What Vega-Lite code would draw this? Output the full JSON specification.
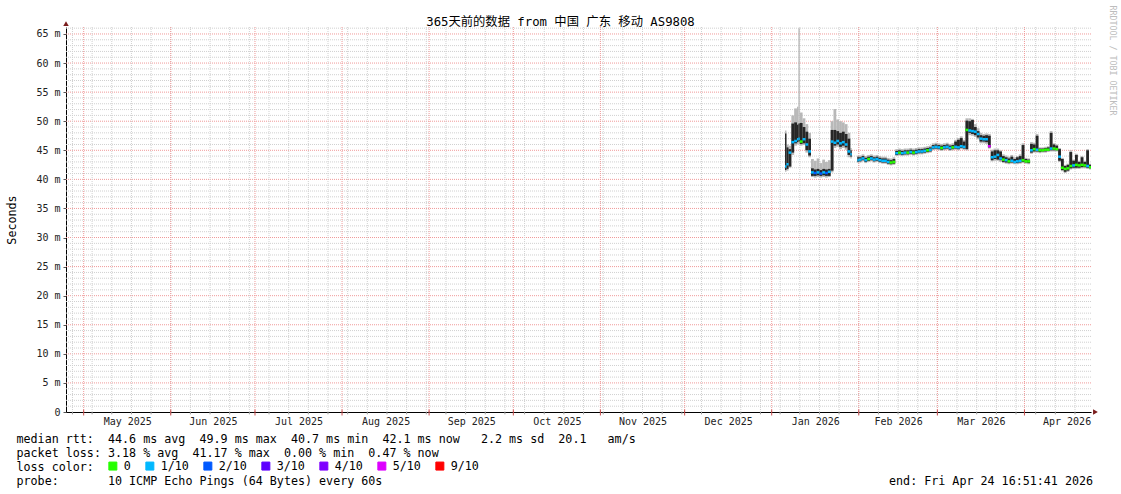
{
  "$schema": "https://vega.github.io/schema/vega-lite/v6.json",
  "width": 1025,
  "height": 385,
  "autosize": {"type": "none"},
  "padding": {"left": 66, "top": 27, "right": 30, "bottom": 82},
  "background": "white",
  "config": {"view": {"stroke": null}, "font": "DejaVu Sans Mono"},
  "datasets": {
    "hminor": [{"v":1},{"v":2},{"v":3},{"v":4},{"v":6},{"v":7},{"v":8},{"v":9},{"v":11},{"v":12},{"v":13},{"v":14},{"v":16},{"v":17},{"v":18},{"v":19},{"v":21},{"v":22},{"v":23},{"v":24},{"v":26},{"v":27},{"v":28},{"v":29},{"v":31},{"v":32},{"v":33},{"v":34},{"v":36},{"v":37},{"v":38},{"v":39},{"v":41},{"v":42},{"v":43},{"v":44},{"v":46},{"v":47},{"v":48},{"v":49},{"v":51},{"v":52},{"v":53},{"v":54},{"v":56},{"v":57},{"v":58},{"v":59},{"v":61},{"v":62},{"v":63},{"v":64},{"v":66}],
    "hmajor": [{"v":5},{"v":10},{"v":15},{"v":20},{"v":25},{"v":30},{"v":35},{"v":40},{"v":45},{"v":50},{"v":55},{"v":60},{"v":65}],
    "weeks": [{"t":"2025-04-27T00:00"},{"t":"2025-05-04T00:00"},{"t":"2025-05-11T00:00"},{"t":"2025-05-18T00:00"},{"t":"2025-05-25T00:00"},{"t":"2025-06-01T00:00"},{"t":"2025-06-08T00:00"},{"t":"2025-06-15T00:00"},{"t":"2025-06-22T00:00"},{"t":"2025-06-29T00:00"},{"t":"2025-07-06T00:00"},{"t":"2025-07-13T00:00"},{"t":"2025-07-20T00:00"},{"t":"2025-07-27T00:00"},{"t":"2025-08-03T00:00"},{"t":"2025-08-10T00:00"},{"t":"2025-08-17T00:00"},{"t":"2025-08-24T00:00"},{"t":"2025-08-31T00:00"},{"t":"2025-09-07T00:00"},{"t":"2025-09-14T00:00"},{"t":"2025-09-21T00:00"},{"t":"2025-09-28T00:00"},{"t":"2025-10-05T00:00"},{"t":"2025-10-12T00:00"},{"t":"2025-10-19T00:00"},{"t":"2025-10-26T00:00"},{"t":"2025-11-02T00:00"},{"t":"2025-11-09T00:00"},{"t":"2025-11-16T00:00"},{"t":"2025-11-23T00:00"},{"t":"2025-11-30T00:00"},{"t":"2025-12-07T00:00"},{"t":"2025-12-14T00:00"},{"t":"2025-12-21T00:00"},{"t":"2025-12-28T00:00"},{"t":"2026-01-04T00:00"},{"t":"2026-01-11T00:00"},{"t":"2026-01-18T00:00"},{"t":"2026-01-25T00:00"},{"t":"2026-02-01T00:00"},{"t":"2026-02-08T00:00"},{"t":"2026-02-15T00:00"},{"t":"2026-02-22T00:00"},{"t":"2026-03-01T00:00"},{"t":"2026-03-08T00:00"},{"t":"2026-03-15T00:00"},{"t":"2026-03-22T00:00"},{"t":"2026-03-29T00:00"},{"t":"2026-04-05T00:00"},{"t":"2026-04-12T00:00"},{"t":"2026-04-19T00:00"}],
    "months": [{"t":"2025-05-01T00:00"},{"t":"2025-06-01T00:00"},{"t":"2025-07-01T00:00"},{"t":"2025-08-01T00:00"},{"t":"2025-09-01T00:00"},{"t":"2025-10-01T00:00"},{"t":"2025-11-01T00:00"},{"t":"2025-12-01T00:00"},{"t":"2026-01-01T00:00"},{"t":"2026-02-01T00:00"},{"t":"2026-03-01T00:00"},{"t":"2026-04-01T00:00"}],
    "ping": [
      {"t":"2026-01-05T18:00","t2":"2026-01-06T06:00","lo":41.3,"hi":48.4,"dlo":41.6,"dhi":47.9,"med":42.2,"loss":"1/10"},
      {"t":"2026-01-06T06:00","t2":"2026-01-07T00:00","lo":41.5,"hi":46.0,"dlo":41.8,"dhi":45.5,"med":42.6,"loss":"1/10"},
      {"t":"2026-01-07T00:00","t2":"2026-01-08T00:00","lo":42.0,"hi":45.8,"dlo":42.2,"dhi":45.2,"med":44.6,"loss":"1/10"},
      {"t":"2026-01-08T00:00","t2":"2026-01-09T00:00","lo":44.2,"hi":51.0,"dlo":44.6,"dhi":49.6,"med":46.4,"loss":"1/10"},
      {"t":"2026-01-09T00:00","t2":"2026-01-10T00:00","lo":45.8,"hi":52.2,"dlo":46.2,"dhi":49.8,"med":46.6,"loss":"1/10"},
      {"t":"2026-01-10T00:00","t2":"2026-01-10T12:00","lo":46.0,"hi":52.5,"dlo":46.4,"dhi":49.4,"med":46.9,"loss":"1/10"},
      {"t":"2026-01-10T12:00","t2":"2026-01-11T00:00","lo":46.0,"hi":66.0,"dlo":46.5,"dhi":49.6,"med":47.0,"loss":"1/10"},
      {"t":"2026-01-11T00:00","t2":"2026-01-12T00:00","lo":45.8,"hi":51.5,"dlo":46.1,"dhi":49.7,"med":46.5,"loss":"0"},
      {"t":"2026-01-12T00:00","t2":"2026-01-13T00:00","lo":45.9,"hi":50.5,"dlo":46.2,"dhi":49.0,"med":46.9,"loss":"1/10"},
      {"t":"2026-01-13T00:00","t2":"2026-01-14T00:00","lo":44.6,"hi":49.5,"dlo":45.0,"dhi":48.2,"med":46.0,"loss":"1/10"},
      {"t":"2026-01-14T00:00","t2":"2026-01-15T00:00","lo":43.8,"hi":48.0,"dlo":44.1,"dhi":47.0,"med":44.8,"loss":"1/10"},
      {"t":"2026-01-15T00:00","t2":"2026-01-16T00:00","lo":40.4,"hi":43.5,"dlo":40.6,"dhi":41.9,"med":41.2,"loss":"1/10"},
      {"t":"2026-01-16T00:00","t2":"2026-01-17T00:00","lo":40.3,"hi":43.2,"dlo":40.6,"dhi":41.7,"med":41.1,"loss":"2/10"},
      {"t":"2026-01-17T00:00","t2":"2026-01-18T00:00","lo":40.4,"hi":43.6,"dlo":40.7,"dhi":41.8,"med":41.2,"loss":"1/10"},
      {"t":"2026-01-18T00:00","t2":"2026-01-19T00:00","lo":40.3,"hi":42.8,"dlo":40.6,"dhi":41.6,"med":41.0,"loss":"2/10"},
      {"t":"2026-01-19T00:00","t2":"2026-01-20T00:00","lo":40.4,"hi":43.4,"dlo":40.7,"dhi":41.8,"med":41.2,"loss":"1/10"},
      {"t":"2026-01-20T00:00","t2":"2026-01-21T00:00","lo":40.3,"hi":43.0,"dlo":40.6,"dhi":41.7,"med":41.1,"loss":"2/10"},
      {"t":"2026-01-21T00:00","t2":"2026-01-22T00:00","lo":40.4,"hi":43.3,"dlo":40.6,"dhi":41.8,"med":41.3,"loss":"1/10"},
      {"t":"2026-01-22T00:00","t2":"2026-01-23T00:00","lo":41.2,"hi":50.0,"dlo":41.5,"dhi":48.5,"med":46.5,"loss":"1/10"},
      {"t":"2026-01-23T00:00","t2":"2026-01-24T00:00","lo":45.4,"hi":52.1,"dlo":45.8,"dhi":48.5,"med":46.3,"loss":"1/10"},
      {"t":"2026-01-24T00:00","t2":"2026-01-25T00:00","lo":45.6,"hi":50.3,"dlo":46.0,"dhi":48.3,"med":46.6,"loss":"1/10"},
      {"t":"2026-01-25T00:00","t2":"2026-01-26T00:00","lo":45.2,"hi":50.0,"dlo":45.6,"dhi":48.0,"med":46.2,"loss":"1/10"},
      {"t":"2026-01-26T00:00","t2":"2026-01-27T00:00","lo":45.4,"hi":49.8,"dlo":45.8,"dhi":48.2,"med":46.4,"loss":"1/10"},
      {"t":"2026-01-27T00:00","t2":"2026-01-28T00:00","lo":45.1,"hi":49.5,"dlo":45.5,"dhi":47.8,"med":46.0,"loss":"1/10"},
      {"t":"2026-01-28T00:00","t2":"2026-01-29T00:00","lo":43.8,"hi":48.0,"dlo":44.2,"dhi":47.0,"med":44.8,"loss":"1/10"},
      {"t":"2026-01-29T00:00","t2":"2026-01-29T12:00","lo":43.6,"hi":45.4,"dlo":43.9,"dhi":45.0,"med":44.3,"loss":"1/10"},
      {"t":"2026-01-31T12:00","t2":"2026-02-01T00:00","lo":42.8,"hi":44.1,"dlo":43.0,"dhi":43.9,"med":43.3,"loss":"1/10"},
      {"t":"2026-02-01T00:00","t2":"2026-02-02T00:00","lo":42.9,"hi":44.1,"dlo":43.1,"dhi":43.8,"med":43.4,"loss":"1/10"},
      {"t":"2026-02-02T00:00","t2":"2026-02-03T00:00","lo":43.1,"hi":44.3,"dlo":43.3,"dhi":44.0,"med":43.6,"loss":"1/10"},
      {"t":"2026-02-03T00:00","t2":"2026-02-04T00:00","lo":42.8,"hi":44.0,"dlo":43.0,"dhi":43.7,"med":43.3,"loss":"1/10"},
      {"t":"2026-02-04T00:00","t2":"2026-02-05T00:00","lo":43.0,"hi":44.2,"dlo":43.2,"dhi":43.9,"med":43.5,"loss":"0"},
      {"t":"2026-02-05T00:00","t2":"2026-02-06T00:00","lo":43.1,"hi":44.3,"dlo":43.3,"dhi":44.0,"med":43.6,"loss":"1/10"},
      {"t":"2026-02-06T00:00","t2":"2026-02-07T00:00","lo":42.9,"hi":44.1,"dlo":43.1,"dhi":43.8,"med":43.4,"loss":"1/10"},
      {"t":"2026-02-07T00:00","t2":"2026-02-08T00:00","lo":43.0,"hi":44.2,"dlo":43.2,"dhi":43.9,"med":43.5,"loss":"1/10"},
      {"t":"2026-02-08T00:00","t2":"2026-02-09T00:00","lo":42.8,"hi":44.0,"dlo":43.0,"dhi":43.7,"med":43.3,"loss":"1/10"},
      {"t":"2026-02-09T00:00","t2":"2026-02-10T00:00","lo":42.7,"hi":43.9,"dlo":42.9,"dhi":43.6,"med":43.2,"loss":"1/10"},
      {"t":"2026-02-10T00:00","t2":"2026-02-11T00:00","lo":42.7,"hi":43.9,"dlo":42.9,"dhi":43.6,"med":43.2,"loss":"1/10"},
      {"t":"2026-02-11T00:00","t2":"2026-02-12T00:00","lo":42.5,"hi":43.7,"dlo":42.7,"dhi":43.4,"med":43.0,"loss":"1/10"},
      {"t":"2026-02-12T00:00","t2":"2026-02-13T00:00","lo":42.4,"hi":43.6,"dlo":42.6,"dhi":43.3,"med":42.9,"loss":"0"},
      {"t":"2026-02-13T00:00","t2":"2026-02-14T00:00","lo":42.5,"hi":43.8,"dlo":42.7,"dhi":43.5,"med":43.0,"loss":"0"},
      {"t":"2026-02-14T00:00","t2":"2026-02-15T00:00","lo":44.0,"hi":45.2,"dlo":44.2,"dhi":44.9,"med":44.5,"loss":"1/10"},
      {"t":"2026-02-15T00:00","t2":"2026-02-16T00:00","lo":44.1,"hi":45.3,"dlo":44.3,"dhi":45.0,"med":44.6,"loss":"0"},
      {"t":"2026-02-16T00:00","t2":"2026-02-17T00:00","lo":44.0,"hi":45.2,"dlo":44.2,"dhi":44.9,"med":44.5,"loss":"1/10"},
      {"t":"2026-02-17T00:00","t2":"2026-02-18T00:00","lo":44.1,"hi":45.3,"dlo":44.3,"dhi":45.0,"med":44.6,"loss":"1/10"},
      {"t":"2026-02-18T00:00","t2":"2026-02-19T00:00","lo":44.1,"hi":45.3,"dlo":44.3,"dhi":45.0,"med":44.6,"loss":"0"},
      {"t":"2026-02-19T00:00","t2":"2026-02-20T00:00","lo":44.2,"hi":45.4,"dlo":44.4,"dhi":45.1,"med":44.7,"loss":"1/10"},
      {"t":"2026-02-20T00:00","t2":"2026-02-21T00:00","lo":44.1,"hi":45.3,"dlo":44.3,"dhi":45.0,"med":44.6,"loss":"0"},
      {"t":"2026-02-21T00:00","t2":"2026-02-22T00:00","lo":44.2,"hi":45.4,"dlo":44.4,"dhi":45.1,"med":44.7,"loss":"1/10"},
      {"t":"2026-02-22T00:00","t2":"2026-02-23T00:00","lo":44.3,"hi":45.5,"dlo":44.5,"dhi":45.2,"med":44.8,"loss":"1/10"},
      {"t":"2026-02-23T00:00","t2":"2026-02-24T00:00","lo":44.3,"hi":45.5,"dlo":44.5,"dhi":45.2,"med":44.8,"loss":"1/10"},
      {"t":"2026-02-24T00:00","t2":"2026-02-25T00:00","lo":44.4,"hi":45.6,"dlo":44.6,"dhi":45.3,"med":44.9,"loss":"1/10"},
      {"t":"2026-02-25T00:00","t2":"2026-02-26T00:00","lo":44.5,"hi":45.7,"dlo":44.7,"dhi":45.4,"med":45.0,"loss":"0"},
      {"t":"2026-02-26T00:00","t2":"2026-02-27T00:00","lo":44.6,"hi":45.8,"dlo":44.8,"dhi":45.5,"med":45.1,"loss":"1/10"},
      {"t":"2026-02-27T00:00","t2":"2026-02-28T00:00","lo":45.0,"hi":46.2,"dlo":45.2,"dhi":45.9,"med":45.5,"loss":"1/10"},
      {"t":"2026-02-28T00:00","t2":"2026-03-01T00:00","lo":45.1,"hi":46.3,"dlo":45.3,"dhi":46.0,"med":45.6,"loss":"1/10"},
      {"t":"2026-03-01T00:00","t2":"2026-03-02T00:00","lo":45.0,"hi":46.2,"dlo":45.2,"dhi":45.9,"med":45.5,"loss":"1/10"},
      {"t":"2026-03-02T00:00","t2":"2026-03-03T00:00","lo":44.9,"hi":46.1,"dlo":45.1,"dhi":45.8,"med":45.4,"loss":"0"},
      {"t":"2026-03-03T00:00","t2":"2026-03-04T00:00","lo":45.0,"hi":46.2,"dlo":45.2,"dhi":45.9,"med":45.5,"loss":"1/10"},
      {"t":"2026-03-04T00:00","t2":"2026-03-05T00:00","lo":45.1,"hi":46.3,"dlo":45.3,"dhi":46.0,"med":45.6,"loss":"1/10"},
      {"t":"2026-03-05T00:00","t2":"2026-03-06T00:00","lo":44.9,"hi":46.1,"dlo":45.1,"dhi":45.8,"med":45.4,"loss":"1/10"},
      {"t":"2026-03-06T00:00","t2":"2026-03-07T00:00","lo":45.0,"hi":46.2,"dlo":45.2,"dhi":45.9,"med":45.5,"loss":"0"},
      {"t":"2026-03-07T00:00","t2":"2026-03-08T00:00","lo":45.1,"hi":46.8,"dlo":45.3,"dhi":46.5,"med":45.6,"loss":"1/10"},
      {"t":"2026-03-08T00:00","t2":"2026-03-09T00:00","lo":45.0,"hi":47.1,"dlo":45.2,"dhi":46.8,"med":45.5,"loss":"1/10"},
      {"t":"2026-03-09T00:00","t2":"2026-03-10T00:00","lo":45.2,"hi":47.4,"dlo":45.4,"dhi":47.1,"med":45.7,"loss":"1/10"},
      {"t":"2026-03-10T00:00","t2":"2026-03-11T00:00","lo":45.1,"hi":46.8,"dlo":45.3,"dhi":46.5,"med":45.6,"loss":"1/10"},
      {"t":"2026-03-11T00:00","t2":"2026-03-12T00:00","lo":45.0,"hi":50.5,"dlo":45.2,"dhi":50.1,"med":48.5,"loss":"0"},
      {"t":"2026-03-12T00:00","t2":"2026-03-13T00:00","lo":47.6,"hi":50.5,"dlo":48.0,"dhi":50.0,"med":48.4,"loss":"1/10"},
      {"t":"2026-03-13T00:00","t2":"2026-03-14T00:00","lo":47.5,"hi":50.4,"dlo":47.8,"dhi":50.2,"med":48.3,"loss":"1/10"},
      {"t":"2026-03-14T00:00","t2":"2026-03-15T00:00","lo":47.3,"hi":49.5,"dlo":47.6,"dhi":49.0,"med":48.2,"loss":"1/10"},
      {"t":"2026-03-15T00:00","t2":"2026-03-16T00:00","lo":46.9,"hi":48.8,"dlo":47.2,"dhi":48.3,"med":47.8,"loss":"1/10"},
      {"t":"2026-03-16T00:00","t2":"2026-03-17T00:00","lo":46.2,"hi":48.0,"dlo":46.5,"dhi":47.6,"med":47.0,"loss":"1/10"},
      {"t":"2026-03-17T00:00","t2":"2026-03-18T00:00","lo":46.2,"hi":47.8,"dlo":46.5,"dhi":47.5,"med":46.9,"loss":"1/10"},
      {"t":"2026-03-18T00:00","t2":"2026-03-19T00:00","lo":46.1,"hi":47.9,"dlo":46.4,"dhi":47.6,"med":46.9,"loss":"1/10"},
      {"t":"2026-03-19T00:00","t2":"2026-03-20T00:00","lo":45.3,"hi":47.8,"dlo":45.5,"dhi":47.5,"med":45.7,"loss":"5/10"},
      {"t":"2026-03-20T00:00","t2":"2026-03-21T00:00","lo":43.1,"hi":45.1,"dlo":43.3,"dhi":44.8,"med":43.8,"loss":"1/10"},
      {"t":"2026-03-21T00:00","t2":"2026-03-22T00:00","lo":43.2,"hi":45.3,"dlo":43.5,"dhi":45.0,"med":43.9,"loss":"1/10"},
      {"t":"2026-03-22T00:00","t2":"2026-03-23T00:00","lo":43.2,"hi":45.3,"dlo":43.4,"dhi":45.0,"med":44.2,"loss":"1/10"},
      {"t":"2026-03-23T00:00","t2":"2026-03-24T00:00","lo":43.0,"hi":45.0,"dlo":43.3,"dhi":44.8,"med":43.6,"loss":"1/10"},
      {"t":"2026-03-24T00:00","t2":"2026-03-25T00:00","lo":42.8,"hi":44.3,"dlo":43.0,"dhi":44.0,"med":43.4,"loss":"0"},
      {"t":"2026-03-25T00:00","t2":"2026-03-26T00:00","lo":42.7,"hi":44.1,"dlo":42.9,"dhi":43.8,"med":43.3,"loss":"1/10"},
      {"t":"2026-03-26T00:00","t2":"2026-03-27T00:00","lo":42.6,"hi":43.9,"dlo":42.8,"dhi":43.6,"med":43.1,"loss":"0"},
      {"t":"2026-03-27T00:00","t2":"2026-03-28T00:00","lo":42.7,"hi":44.2,"dlo":42.9,"dhi":43.9,"med":43.2,"loss":"1/10"},
      {"t":"2026-03-28T00:00","t2":"2026-03-29T00:00","lo":42.6,"hi":43.8,"dlo":42.8,"dhi":43.5,"med":43.0,"loss":"1/10"},
      {"t":"2026-03-29T00:00","t2":"2026-03-30T00:00","lo":42.6,"hi":44.0,"dlo":42.8,"dhi":43.8,"med":43.1,"loss":"1/10"},
      {"t":"2026-03-30T00:00","t2":"2026-03-31T00:00","lo":42.7,"hi":44.3,"dlo":42.9,"dhi":44.0,"med":43.2,"loss":"1/10"},
      {"t":"2026-03-31T00:00","t2":"2026-04-01T00:00","lo":42.8,"hi":46.2,"dlo":43.0,"dhi":45.9,"med":43.3,"loss":"0"},
      {"t":"2026-04-01T00:00","t2":"2026-04-02T00:00","lo":42.7,"hi":43.7,"dlo":42.9,"dhi":43.5,"med":43.1,"loss":"0"},
      {"t":"2026-04-02T00:00","t2":"2026-04-03T00:00","lo":42.6,"hi":43.6,"dlo":42.8,"dhi":43.4,"med":43.1,"loss":"0"},
      {"t":"2026-04-03T00:00","t2":"2026-04-04T00:00","lo":44.4,"hi":46.4,"dlo":44.6,"dhi":46.1,"med":45.0,"loss":"1/10"},
      {"t":"2026-04-04T00:00","t2":"2026-04-05T00:00","lo":44.6,"hi":46.3,"dlo":44.8,"dhi":46.0,"med":45.2,"loss":"0"},
      {"t":"2026-04-05T00:00","t2":"2026-04-06T00:00","lo":44.6,"hi":47.8,"dlo":44.8,"dhi":47.5,"med":45.1,"loss":"1/10"},
      {"t":"2026-04-06T00:00","t2":"2026-04-07T00:00","lo":44.5,"hi":45.5,"dlo":44.7,"dhi":45.3,"med":45.0,"loss":"0"},
      {"t":"2026-04-07T00:00","t2":"2026-04-08T00:00","lo":44.6,"hi":45.5,"dlo":44.8,"dhi":45.3,"med":45.0,"loss":"0"},
      {"t":"2026-04-08T00:00","t2":"2026-04-09T00:00","lo":44.6,"hi":45.6,"dlo":44.8,"dhi":45.4,"med":45.1,"loss":"0"},
      {"t":"2026-04-09T00:00","t2":"2026-04-10T00:00","lo":44.7,"hi":45.7,"dlo":44.9,"dhi":45.5,"med":45.1,"loss":"0"},
      {"t":"2026-04-10T00:00","t2":"2026-04-11T00:00","lo":44.8,"hi":48.3,"dlo":45.0,"dhi":48.0,"med":45.3,"loss":"1/10"},
      {"t":"2026-04-11T00:00","t2":"2026-04-12T00:00","lo":44.8,"hi":46.2,"dlo":45.0,"dhi":46.0,"med":45.3,"loss":"0"},
      {"t":"2026-04-12T00:00","t2":"2026-04-13T00:00","lo":44.8,"hi":46.0,"dlo":45.0,"dhi":45.8,"med":45.2,"loss":"0"},
      {"t":"2026-04-13T00:00","t2":"2026-04-14T00:00","lo":43.0,"hi":45.4,"dlo":43.2,"dhi":45.2,"med":43.9,"loss":"1/10"},
      {"t":"2026-04-14T00:00","t2":"2026-04-15T00:00","lo":41.4,"hi":43.7,"dlo":41.6,"dhi":43.5,"med":42.0,"loss":"0"},
      {"t":"2026-04-15T00:00","t2":"2026-04-16T00:00","lo":41.1,"hi":42.5,"dlo":41.3,"dhi":42.3,"med":41.8,"loss":"0"},
      {"t":"2026-04-16T00:00","t2":"2026-04-17T00:00","lo":41.3,"hi":42.7,"dlo":41.5,"dhi":42.5,"med":41.9,"loss":"0"},
      {"t":"2026-04-17T00:00","t2":"2026-04-18T00:00","lo":41.7,"hi":45.0,"dlo":41.9,"dhi":44.7,"med":42.3,"loss":"0"},
      {"t":"2026-04-18T00:00","t2":"2026-04-19T00:00","lo":41.8,"hi":43.4,"dlo":42.0,"dhi":43.2,"med":42.4,"loss":"1/10"},
      {"t":"2026-04-19T00:00","t2":"2026-04-20T00:00","lo":41.8,"hi":44.4,"dlo":42.0,"dhi":44.2,"med":42.5,"loss":"0"},
      {"t":"2026-04-20T00:00","t2":"2026-04-21T00:00","lo":41.8,"hi":43.2,"dlo":42.0,"dhi":43.0,"med":42.4,"loss":"0"},
      {"t":"2026-04-21T00:00","t2":"2026-04-22T00:00","lo":41.9,"hi":44.0,"dlo":42.1,"dhi":43.8,"med":42.5,"loss":"0"},
      {"t":"2026-04-22T00:00","t2":"2026-04-23T00:00","lo":41.9,"hi":43.2,"dlo":42.1,"dhi":43.0,"med":42.4,"loss":"0"},
      {"t":"2026-04-23T00:00","t2":"2026-04-24T00:00","lo":41.8,"hi":45.2,"dlo":42.0,"dhi":45.0,"med":42.3,"loss":"1/10"},
      {"t":"2026-04-24T00:00","t2":"2026-04-24T16:51","lo":41.7,"hi":42.7,"dlo":41.9,"dhi":42.5,"med":42.1,"loss":"0"}
    ]
  },
  "resolve": {"axis": {"x": "independent", "y": "independent"}},
  "layer": [
    {
      "data": {"name": "hminor"},
      "mark": {"type": "rule", "color": "#d0d0d0", "strokeDash": [1, 1], "strokeWidth": 1},
      "encoding": {
        "y": {
          "field": "v", "type": "quantitative",
          "scale": {"domain": [0, 66.2], "nice": false, "zero": true},
          "axis": {
            "values": [0, 5, 10, 15, 20, 25, 30, 35, 40, 45, 50, 55, 60, 65],
            "labelExpr": "datum.value == 0 ? '0' : datum.value + ' m'",
            "labelFont": "DejaVu Sans Mono", "labelFontSize": 10, "labelColor": "#222",
            "labelPadding": 3, "ticks": true, "tickSize": 3, "tickColor": "#555",
            "labelOverlap": false, "labelFlush": false,
            "grid": false, "domain": true, "domainColor": "#000",
            "title": "Seconds", "titleFont": "DejaVu Sans Mono", "titleFontSize": 11.7,
            "titleFontWeight": "normal", "titleColor": "#000",
            "titleX": -55, "titleY": 192.5, "titleAngle": -90,
            "titleAlign": "center", "titleBaseline": "middle"
          }
        }
      }
    },
    {
      "data": {"name": "hmajor"},
      "mark": {"type": "rule", "color": "#f09a9a", "strokeDash": [1, 1], "strokeWidth": 1},
      "encoding": {"y": {"field": "v", "type": "quantitative", "axis": null}}
    },
    {
      "data": {"name": "weeks"},
      "mark": {"type": "rule", "color": "#d0d0d0", "strokeDash": [1, 1], "strokeWidth": 1},
      "encoding": {
        "x": {
          "field": "t", "type": "temporal",
          "scale": {"domain": [
            {"year": 2025, "month": 4, "date": 24, "hours": 16, "minutes": 51, "seconds": 41},
            {"year": 2026, "month": 4, "date": 24, "hours": 16, "minutes": 51, "seconds": 41}
          ]},
          "axis": {
            "orient": "bottom",
            "values": [
              {"year": 2025, "month": 5, "date": 16, "hours": 12},
              {"year": 2025, "month": 6, "date": 16},
              {"year": 2025, "month": 7, "date": 16, "hours": 12},
              {"year": 2025, "month": 8, "date": 16, "hours": 12},
              {"year": 2025, "month": 9, "date": 16},
              {"year": 2025, "month": 10, "date": 16, "hours": 12},
              {"year": 2025, "month": 11, "date": 16},
              {"year": 2025, "month": 12, "date": 16, "hours": 12},
              {"year": 2026, "month": 1, "date": 16, "hours": 12},
              {"year": 2026, "month": 2, "date": 15},
              {"year": 2026, "month": 3, "date": 16, "hours": 12},
              {"year": 2026, "month": 4, "date": 16}
            ],
            "labelExpr": "timeFormat(datum.value, '%b %Y')",
            "ticks": false, "tickSize": 0, "labelPadding": 4,
            "labelFont": "DejaVu Sans Mono", "labelFontSize": 10, "labelColor": "#222",
            "labelBaseline": "top", "labelAlign": "center",
            "labelOverlap": false, "labelFlush": false,
            "grid": false, "domain": true, "domainColor": "#000",
            "title": [
              "median rtt:\u00a0\u00a044.6 ms avg\u00a0\u00a049.9 ms max\u00a0\u00a040.7 ms min\u00a0\u00a042.1 ms now\u00a0\u00a0\u00a02.2 ms sd\u00a0\u00a020.1\u00a0\u00a0\u00a0am/s",
              "packet loss: 3.18 % avg\u00a0\u00a041.17 % max\u00a0\u00a00.00 % min\u00a0\u00a00.47 % now",
              "loss color:",
              "probe:\u00a0\u00a0\u00a0\u00a0\u00a0\u00a0\u00a010 ICMP Echo Pings (64 Bytes) every 60s\u00a0\u00a0\u00a0\u00a0\u00a0\u00a0\u00a0\u00a0\u00a0\u00a0\u00a0\u00a0\u00a0\u00a0\u00a0\u00a0\u00a0\u00a0\u00a0\u00a0\u00a0\u00a0\u00a0\u00a0\u00a0\u00a0\u00a0\u00a0\u00a0\u00a0\u00a0\u00a0\u00a0\u00a0\u00a0\u00a0\u00a0\u00a0\u00a0\u00a0\u00a0\u00a0\u00a0\u00a0\u00a0\u00a0\u00a0\u00a0\u00a0\u00a0\u00a0\u00a0\u00a0\u00a0\u00a0\u00a0\u00a0\u00a0\u00a0\u00a0\u00a0\u00a0\u00a0\u00a0\u00a0\u00a0\u00a0\u00a0\u00a0\u00a0\u00a0\u00a0end: Fri Apr 24 16:51:41 2026"
            ],
            "titleFont": "DejaVu Sans Mono", "titleFontSize": 11.7, "titleFontWeight": "normal",
            "titleColor": "#000", "titleAnchor": "start", "titleAlign": "left",
            "titleX": -50, "titleY": 30, "titleBaseline": "alphabetic", "titleLineHeight": 14
          }
        }
      }
    },
    {
      "data": {"name": "months"},
      "mark": {"type": "rule", "color": "#f09a9a", "strokeDash": [1, 1], "strokeWidth": 1},
      "encoding": {"x": {"field": "t", "type": "temporal", "axis": null}}
    },
    {
      "data": {"name": "weeks"},
      "mark": {"type": "rule", "color": "#999999", "strokeWidth": 1},
      "encoding": {
        "x": {"field": "t", "type": "temporal", "axis": null},
        "y": {"datum": 0, "type": "quantitative", "axis": null},
        "y2": {"datum": -0.4}
      }
    },
    {
      "data": {"name": "months"},
      "mark": {"type": "rule", "color": "#c85050", "strokeWidth": 1},
      "encoding": {
        "x": {"field": "t", "type": "temporal", "axis": null},
        "y": {"datum": 0.4, "type": "quantitative", "axis": null},
        "y2": {"datum": -0.6}
      }
    },
    {
      "data": {"name": "ping"},
      "mark": {"type": "rect", "color": "#b8b8b8"},
      "encoding": {
        "x": {"field": "t", "type": "temporal", "axis": null},
        "x2": {"field": "t2"},
        "y": {"field": "lo", "type": "quantitative", "axis": null},
        "y2": {"field": "hi"}
      }
    },
    {
      "data": {"name": "ping"},
      "mark": {"type": "rect", "color": "#262626"},
      "encoding": {
        "x": {"field": "t", "type": "temporal", "axis": null},
        "x2": {"field": "t2"},
        "y": {"field": "dlo", "type": "quantitative", "axis": null},
        "y2": {"field": "dhi"}
      }
    },
    {
      "data": {"name": "ping"},
      "mark": {"type": "rule", "strokeWidth": 2.5, "opacity": 1},
      "encoding": {
        "x": {"field": "t", "type": "temporal", "axis": null},
        "x2": {"field": "t2"},
        "y": {"field": "med", "type": "quantitative", "axis": null},
        "color": {
          "field": "loss", "type": "nominal",
          "scale": {
            "domain": ["0", "1/10", "2/10", "3/10", "4/10", "5/10", "9/10"],
            "range": ["#26ff00", "#00b8ff", "#0059ff", "#5e00ff", "#7e00ff", "#dd00ff", "#ff0000"]
          },
          "legend": {
            "orient": "none", "legendX": 41, "legendY": 433,
            "direction": "horizontal", "title": null,
            "labelFont": "DejaVu Sans Mono", "labelFontSize": 11.7, "labelColor": "#000",
            "labelOffset": 5, "columnPadding": 12, "padding": 0,
            "symbolType": "square", "symbolSize": 64, "symbolStrokeWidth": 1,
            "symbolStrokeColor": "#000", "symbolOpacity": 1,
            "encode": {"symbols": {"update": {
              "fill": {"scale": "color", "field": "value"},
              "stroke": {"value": "#000"},
              "strokeWidth": {"value": 1},
              "opacity": {"value": 1}
            }}}
          }
        }
      }
    },
    {
      "data": {"values": [{}]},
      "mark": {"type": "point", "shape": "triangle-up", "filled": true, "size": 30, "color": "#7a1c1c", "opacity": 1},
      "encoding": {
        "x": {
          "datum": {"year": 2025, "month": 4, "date": 24, "hours": 16, "minutes": 51, "seconds": 41},
          "type": "temporal",
          "axis": {
            "orient": "top", "labels": false, "ticks": false, "domain": false, "grid": false,
            "title": "365天前的数据 from 中国 广东 移动 AS9808",
            "titleFont": "DejaVu Sans Mono, Noto Sans CJK SC", "titleFontSize": 12.3,
            "titleFontWeight": "normal", "titleColor": "#000",
            "titleX": 494, "titleY": -6, "titleAlign": "center", "titleBaseline": "middle"
          }
        },
        "y": {"datum": 66.8, "type": "quantitative", "axis": null}
      }
    },
    {
      "data": {"values": [{}]},
      "mark": {"type": "point", "shape": "triangle-right", "filled": true, "size": 30, "color": "#7a1c1c", "opacity": 1},
      "encoding": {
        "x": {"datum": {"year": 2026, "month": 4, "date": 26, "hours": 7}, "type": "temporal", "axis": null},
        "y": {
          "datum": 0, "type": "quantitative",
          "axis": {
            "orient": "right", "labels": false, "ticks": false, "domain": false, "grid": false,
            "title": "RRDTOOL / TOBI OETIKER", "titleFont": "DejaVu Sans Mono", "titleFontSize": 8.3,
            "titleFontWeight": "normal", "titleColor": "#bdbdbd", "titleAngle": 90,
            "titleX": 20, "titleY": 33, "titleAlign": "center", "titleBaseline": "middle"
          }
        }
      }
    }
  ]
}
